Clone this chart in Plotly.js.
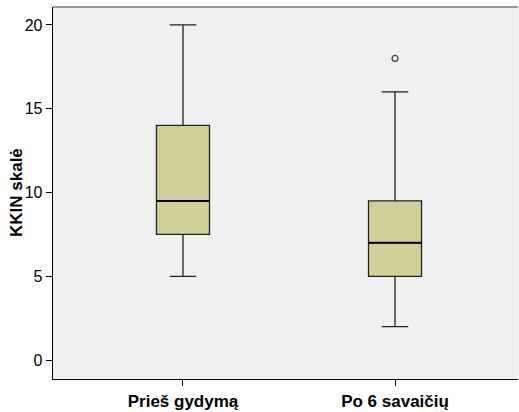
<!DOCTYPE html>
<html>
<head>
<meta charset="utf-8">
<script src="https://cdn.plot.ly/plotly-3.0.1.min.js"></script>
<style>
  html, body { margin: 0; padding: 0; background: #ffffff; }
  #chart { width: 519px; height: 412px; }
</style>
</head>
<body>
<div id="chart"></div>
<script>
// Group labels along the x axis
const groups = ["Prieš gydymą", "Po 6 savaičių"];

// Five-number summaries for each group (KKIN scale)
const lowerWhisker = [5, 2];
const q1Values = [7.5, 5];
const medianValues = [9.5, 7];
const q3Values = [14, 9.5];
const upperWhisker = [20, 16];

// Outlying observations: group index and value
const outlierGroup = [1];
const outlierValue = [18];

const yTicks = [0, 5, 10, 15, 20];
const yTitle = "KKIN skalė";

const BOX_WIDTH = 0.25;
const FILL = "#d3cf98";
const INK = "#000000";
const FONT = "Liberation Sans, Arial, sans-serif";

const xPos = groups.map((_, i) => i);

const traces = [];

// Boxes with whiskers
traces.push({
  type: "box",
  x: xPos,
  q1: q1Values,
  median: medianValues,
  q3: q3Values,
  lowerfence: lowerWhisker,
  upperfence: upperWhisker,
  width: BOX_WIDTH,
  whiskerwidth: 0.5,
  fillcolor: FILL,
  line: { color: "#222222", width: 1.3 },
  boxpoints: false,
  hoverinfo: "skip",
  showlegend: false
});

// Heavier median bars drawn on top of each box
xPos.forEach((x, i) => {
  traces.push({
    type: "scatter",
    mode: "lines",
    x: [x - BOX_WIDTH / 2, x + BOX_WIDTH / 2],
    y: [medianValues[i], medianValues[i]],
    line: { color: INK, width: 2 },
    hoverinfo: "skip",
    showlegend: false
  });
});

// Outliers as open circles
traces.push({
  type: "scatter",
  mode: "markers",
  x: outlierGroup,
  y: outlierValue,
  marker: { symbol: "circle-open", size: 6, color: "#333333", line: { width: 1.2 } },
  hoverinfo: "skip",
  showlegend: false
});

const layout = {
  width: 519,
  height: 412,
  margin: { l: 53, r: 1, t: 7, b: 33 },
  paper_bgcolor: "#ffffff",
  plot_bgcolor: "#f0f0f0",
  font: { family: FONT, size: 16, color: "#000000" },
  showlegend: false,
  xaxis: {
    range: [-0.613, 1.58],
    tickmode: "array",
    tickvals: xPos,
    ticktext: groups.map(g => "<b>" + g + "</b>"),
    tickfont: { family: FONT, size: 17, color: "#000000" },
    ticks: "outside",
    ticklen: 6,
    tickcolor: INK,
    showgrid: false,
    zeroline: false,
    showline: true,
    linecolor: INK,
    linewidth: 1.3
  },
  yaxis: {
    range: [-1.13, 21.07],
    tickmode: "array",
    tickvals: yTicks,
    tickfont: { family: FONT, size: 16, color: "#000000" },
    ticks: "outside",
    ticklen: 6,
    tickcolor: INK,
    showgrid: false,
    zeroline: false,
    showline: true,
    linecolor: INK,
    linewidth: 1.3
  },
  annotations: [
    {
      // y axis title, set close to the tick labels
      text: "<b>" + yTitle + "</b>",
      xref: "paper", yref: "paper",
      x: 0, y: 0.5,
      xshift: -37,
      xanchor: "center", yanchor: "middle",
      textangle: -90,
      showarrow: false,
      font: { family: FONT, size: 17, color: "#000000" }
    }
  ],
  shapes: [
    {
      type: "line", xref: "paper", yref: "paper",
      x0: 0, x1: 1, y0: 1, y1: 1,
      line: { color: "#777777", width: 1.5 }
    }
  ]
};

Plotly.newPlot("chart", traces, layout, { displayModeBar: false, staticPlot: true });
</script>
</body>
</html>
